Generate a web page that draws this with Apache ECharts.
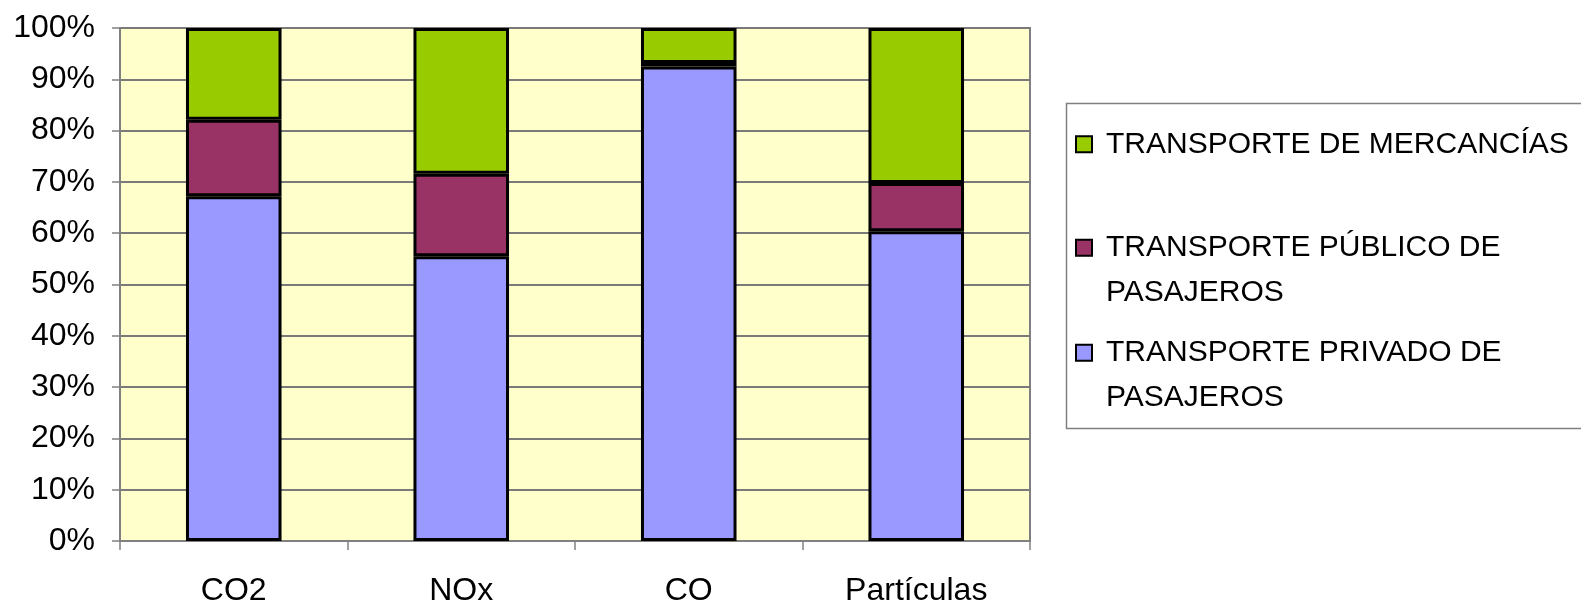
<!DOCTYPE html>
<html><head><meta charset="utf-8">
<script src="https://cdn.jsdelivr.net/npm/echarts@6/dist/echarts.min.js"></script>
<style>html,body{margin:0;padding:0;background:#fff}#c{width:1581px;height:607px}</style>
</head><body><div id="c"></div>
<script>
const categories = ['CO2', 'NOx', 'CO', 'Partículas'];
const privado = [67.2, 55.5, 92.5, 60.4];
const publico = [14.9, 16.1, 0.7, 9.4];
const mercancias = [17.9, 28.4, 6.8, 30.2];
const yTicks = [0, 10, 20, 30, 40, 50, 60, 70, 80, 90, 100];
const names = ['TRANSPORTE PRIVADO DE PASAJEROS', 'TRANSPORTE PÚBLICO DE PASAJEROS', 'TRANSPORTE DE MERCANCÍAS'];
const labels = {
  'TRANSPORTE DE MERCANCÍAS': 'TRANSPORTE DE MERCANCÍAS',
  'TRANSPORTE PÚBLICO DE PASAJEROS': ' \nTRANSPORTE PÚBLICO DE\nPASAJEROS',
  'TRANSPORTE PRIVADO DE PASAJEROS': ' \nTRANSPORTE PRIVADO DE\nPASAJEROS'
};
const colors = ['#9999FF', '#993366', '#99CC00'];
const font = 'Liberation Sans, Arial, sans-serif';

const chart = echarts.init(document.getElementById('c'), null, {renderer: 'canvas'});
function mkLegend(name, top) {
  return {
    show: true, orient: 'vertical', left: 1075, top: top, padding: 0,
    itemWidth: 16, itemHeight: 16, itemGap: 0,
    icon: 'rect', selectedMode: false,
    data: [name],
    formatter: n => labels[n],
    itemStyle: {borderColor: '#000', borderWidth: 2},
    textStyle: {fontFamily: font, fontSize: 30, color: '#000', lineHeight: 44.5,
      padding: [0, 0, 0, 9]}
  };
}
const series = [privado, publico, mercancias].map((d, i) => ({
  name: names[i], type: 'bar', stack: 'total', data: d,
  barWidth: '42%',
  itemStyle: {color: colors[i], borderColor: '#000', borderWidth: 3},
  emphasis: {disabled: true}
}));
chart.setOption({
  animation: false,
  grid: {left: 120, right: 551, top: 28, bottom: 64, show: true,
    backgroundColor: '#FFFFCC', borderColor: '#808080', borderWidth: 2},
  legend: [
    mkLegend('TRANSPORTE DE MERCANCÍAS', 122),
    mkLegend('TRANSPORTE PÚBLICO DE PASAJEROS', 181),
    mkLegend('TRANSPORTE PRIVADO DE PASAJEROS', 286)
  ],
  graphic: [{type: 'rect', left: 1064, top: 101,
    shape: {width: 530, height: 325},
    style: {fill: 'none', stroke: '#808080', lineWidth: 1.5}, silent: true}],
  xAxis: {
    type: 'category', data: categories,
    axisLine: {lineStyle: {color: '#808080', width: 2}},
    axisTick: {show: true, alignWithLabel: false, length: 9, lineStyle: {color: '#808080', width: 1.5}},
    axisLabel: {fontFamily: font, fontSize: 32, color: '#000', margin: 34},
    splitLine: {show: false}
  },
  yAxis: {
    type: 'value', min: 0, max: 100, interval: 10,
    axisLine: {show: true, lineStyle: {color: '#808080', width: 2}},
    axisTick: {show: true, length: 8, lineStyle: {color: '#808080', width: 1.5}},
    axisLabel: {fontFamily: font, fontSize: 32, color: '#000', margin: 25,
      formatter: v => yTicks.includes(v) ? v + '%' : ''},
    splitLine: {show: true, lineStyle: {color: '#7a7a7a', width: 2}}
  },
  series: series
});
</script></body></html>
